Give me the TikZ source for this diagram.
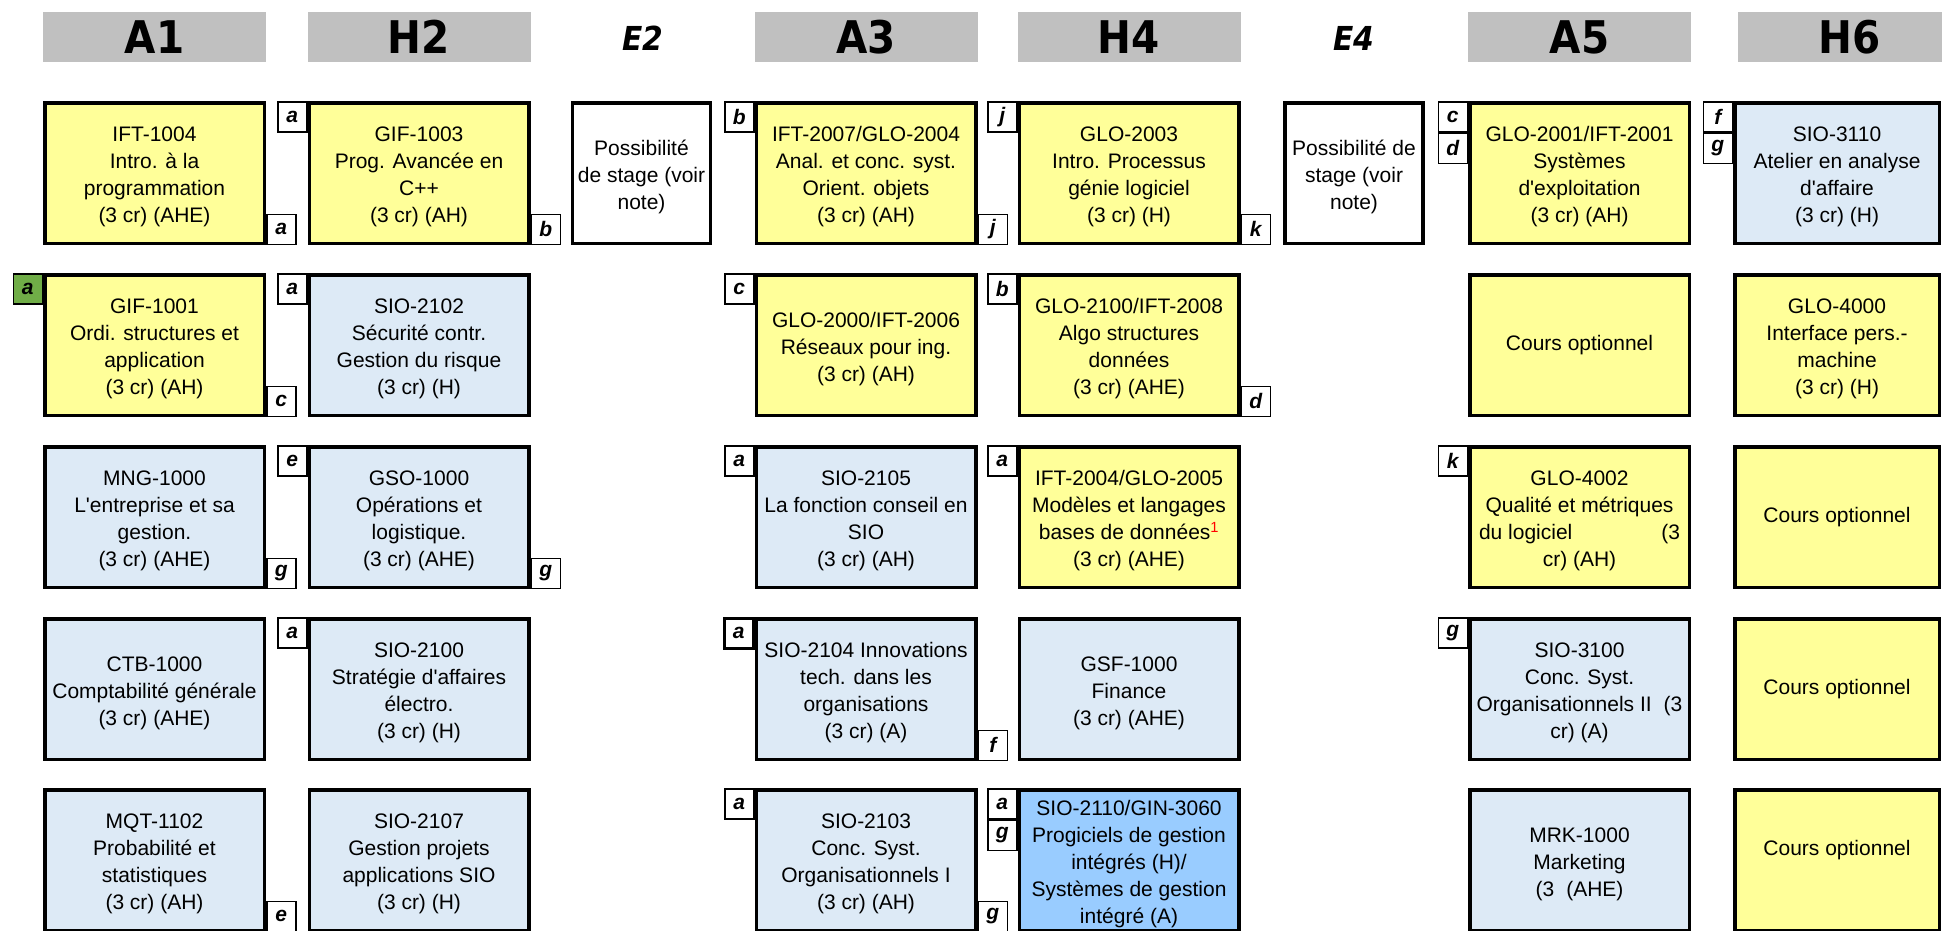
\documentclass[tikz,border=0pt]{standalone}
\usepackage{fontspec}
\setmainfont{Liberation Sans}
\newfontfamily\hdrfont{DejaVu Sans Condensed}
\usetikzlibrary{positioning,calc}
\definecolor{cyel}{HTML}{FFFF99}
\definecolor{cblu}{HTML}{DDEAF6}
\definecolor{cbblu}{HTML}{99CCFF}
\definecolor{cgray}{HTML}{C0C0C0}
\definecolor{cgreen}{HTML}{70AD47}
\newcommand\fl{\rule{0pt}{23pt}}
\tikzset{
  course/.style={draw=black, line width=3.5pt, minimum width=219.5pt, minimum height=140.5pt,
    align=center, inner sep=2pt, font=\fontsize{21}{27}\selectfont},
  yel/.style={course, fill=cyel},
  blu/.style={course, fill=cblu},
  bblu/.style={course, fill=cbblu},
  wht/.style={course, fill=white, minimum width=138pt},
  lastcol/.style={minimum width=204.5pt},
  hdr/.style={fill=cgray, minimum width=223pt, minimum height=50pt, inner sep=0pt,
    font=\hdrfont\bfseries\fontsize{45}{45}\selectfont},
  elab/.style={inner sep=0pt, font=\hdrfont\bfseries\itshape\fontsize{33}{33}\selectfont},
  tag/.style={draw=black, fill=white, line width=1.5pt, minimum width=29pt, minimum height=30pt,
    inner sep=0pt, font=\bfseries\itshape\fontsize{21}{21}\selectfont},
  gtag/.style={tag, fill=cgreen},
}
\begin{document}
\begin{tikzpicture}[x=1pt,y=-1pt]
\useasboundingbox (0,0) rectangle (1942,930);
\clip (0,0) rectangle (1942,930);
% headers
\node[hdr] (hA1) at (154.5,37) {A1};
\node[hdr] (hH2) at (419,37) {H2};
\node[elab] (hE2) at (643,38.5) {E2};
\node[hdr] (hA3) at (866,37) {A3};
\node[hdr] (hH4) at (1129,37) {H4};
\node[elab] (hE4) at (1354,38.5) {E4};
\node[hdr] (hA5) at (1579.5,37) {A5};
\node[hdr] (hH6) at (1849.5,37) {H6};
% row 1
\node[yel] (r1a1) at (154.5,173) {\fl IFT-1004\\Intro. à la\\programmation\\(3 cr) (AHE)};
\node[yel] (r1h2) at (419,173) {\fl GIF-1003\\Prog. Avancée en\\C++\\(3 cr) (AH)};
\node[wht] (e2) at (641.5,173) {\fl Possibilité\\de stage (voir\\note)};
\node[yel] (r1a3) at (866,173) {\fl IFT-2007/GLO-2004\\Anal. et conc. syst.\\Orient. objets\\(3 cr) (AH)};
\node[yel] (r1h4) at (1129,173) {\fl GLO-2003\\Intro. Processus\\génie logiciel\\(3 cr) (H)};
\node[wht] (e4) at (1354,173) {\fl Possibilité de\\stage (voir\\note)};
\node[yel] (r1a5) at (1579.5,173) {\fl GLO-2001/IFT-2001\\Systèmes\\d\textquotesingle exploitation\\(3 cr) (AH)};
\node[blu,lastcol] (r1h6) at (1837,173) {\fl SIO-3110\\Atelier en analyse\\d\textquotesingle affaire\\(3 cr) (H)};
% row 2
\node[yel] (r2a1) at (154.5,345) {\fl GIF-1001\\Ordi. structures et\\application\\(3 cr) (AH)};
\node[blu] (r2h2) at (419,345) {\fl SIO-2102\\Sécurité contr.\\Gestion du risque\\(3 cr) (H)};
\node[yel] (r2a3) at (866,345) {\fl GLO-2000/IFT-2006\\Réseaux pour ing.\\(3 cr) (AH)};
\node[yel] (r2h4) at (1129,345) {\fl GLO-2100/IFT-2008\\Algo structures\\données\\(3 cr) (AHE)};
\node[yel] (r2a5) at (1579.5,345) {Cours optionnel};
\node[yel,lastcol] (r2h6) at (1837,345) {\fl GLO-4000\\Interface pers.-\\machine\\(3 cr) (H)};
% row 3
\node[blu] (r3a1) at (154.5,517) {\fl MNG-1000\\L\textquotesingle entreprise et sa\\gestion.\\(3 cr) (AHE)};
\node[blu] (r3h2) at (419,517) {\fl GSO-1000\\Opérations et\\logistique.\\(3 cr) (AHE)};
\node[blu] (r3a3) at (866,517) {\fl SIO-2105\\La fonction conseil en\\SIO\\(3 cr) (AH)};
\node[yel] (r3h4) at (1129,517) {\fl IFT-2004/GLO-2005\\Modèles et langages\\bases de données\textsuperscript{\color{red}1}\\(3 cr) (AHE)};
\node[yel] (r3a5) at (1579.5,517) {\fl GLO-4002\\Qualité et métriques\\\makebox[201pt]{du logiciel\hfill(3}\\cr) (AH)};
\node[yel,lastcol] (r3h6) at (1837,517) {Cours optionnel};
% row 4
\node[blu] (r4a1) at (154.5,689) {\fl CTB-1000\\Comptabilité générale\\(3 cr) (AHE)};
\node[blu] (r4h2) at (419,689) {\fl SIO-2100\\Stratégie d\textquotesingle affaires\\électro.\\(3 cr) (H)};
\node[blu] (r4a3) at (866,689) {\fl SIO-2104 Innovations\\tech. dans les\\organisations\\(3 cr) (A)};
\node[blu] (r4h4) at (1129,689) {\fl GSF-1000\\Finance\\(3 cr) (AHE)};
\node[blu] (r4a5) at (1579.5,689) {\fl SIO-3100\\Conc. Syst.\\Organisationnels II\hspace{12pt}(3\\cr) (A)};
\node[yel,lastcol] (r4h6) at (1837,689) {Cours optionnel};
% row 5
\node[blu] (r5a1) at (154.5,860) {\fl MQT-1102\\Probabilité et\\statistiques\\(3 cr) (AH)};
\node[blu] (r5h2) at (419,860) {\fl SIO-2107\\Gestion projets\\applications SIO\\(3 cr) (H)};
\node[blu] (r5a3) at (866,860) {\fl SIO-2103\\Conc. Syst.\\Organisationnels I\\(3 cr) (AH)};
\node[bblu] (r5h4) at (1129,860) {\fl SIO-2110/GIN-3060\\Progiciels de gestion\\intégrés (H)/\\Systèmes de gestion\\intégré (A)};
\node[blu] (r5a5) at (1579.5,860) {\fl MRK-1000\\Marketing\\(3\hspace{12pt}(AHE)};
\node[yel,lastcol] (r5h6) at (1837,860) {Cours optionnel\rule[-24pt]{0pt}{0pt}};
% tags row 1
\node[tag, anchor=south west] (t1a) at (r1a1.south east) {a};
\node[tag, anchor=north east] (t1b) at (r1h2.north west) {a};
\node[tag, anchor=south west] (t1c) at (r1h2.south east) {b};
\node[tag, anchor=north east] (t1d) at (r1a3.north west) {b};
\node[tag, anchor=south west] (t1e) at (r1a3.south east) {j};
\node[tag, anchor=north east] (t1f) at (r1h4.north west) {j};
\node[tag, anchor=south west] (t1g) at (r1h4.south east) {k};
\node[tag, anchor=north east] (t1h) at (r1a5.north west) {c};
\node[tag, anchor=north] (t1i) at (t1h.south) {d};
\node[tag, anchor=north east] (t1j) at (r1h6.north west) {f};
\node[tag, anchor=north] (t1k) at (t1j.south) {g};
% tags row 2
\node[gtag, anchor=north east] (t2a) at (r2a1.north west) {a};
\node[tag, anchor=south west] (t2b) at (r2a1.south east) {c};
\node[tag, anchor=north east] (t2c) at (r2h2.north west) {a};
\node[tag, anchor=north east] (t2d) at (r2a3.north west) {c};
\node[tag, anchor=north east] (t2e) at (r2h4.north west) {b};
\node[tag, anchor=south west] (t2f) at (r2h4.south east) {d};
% tags row 3
\node[tag, anchor=south west] (t3a) at (r3a1.south east) {g};
\node[tag, anchor=north east] (t3b) at (r3h2.north west) {e};
\node[tag, anchor=south west] (t3c) at (r3h2.south east) {g};
\node[tag, anchor=north east] (t3d) at (r3a3.north west) {a};
\node[tag, anchor=north east] (t3e) at (r3h4.north west) {a};
\node[tag, anchor=north east] (t3f) at (r3a5.north west) {k};
% tags row 4
\node[tag, anchor=north east] (t4a) at (r4h2.north west) {a};
\node[tag, anchor=north east, line width=2.5pt] (t4b) at (r4a3.north west) {a};
\node[tag, anchor=south west] (t4c) at (r4a3.south east) {f};
\node[tag, anchor=north east] (t4d) at (r4a5.north west) {g};
% tags row 5
\node[tag, anchor=south west] (t5a) at (r5a1.south east) {e};
\node[tag, anchor=north east] (t5b) at (r5a3.north west) {a};
\node[tag, anchor=south west] (t5c) at (r5a3.south east) {g};
\node[tag, anchor=north east] (t5d) at (r5h4.north west) {a};
\node[tag, anchor=north] (t5e) at (t5d.south) {g};
\end{tikzpicture}
\end{document}
